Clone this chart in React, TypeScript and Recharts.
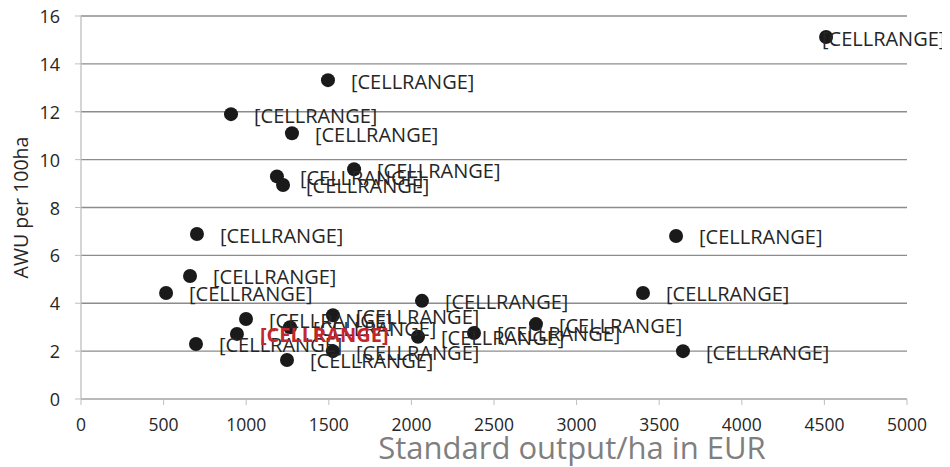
import React from 'react';
import { ScatterChart, Scatter, XAxis, YAxis, CartesianGrid, LabelList, Label } from 'recharts';

const xValues = [4510, 1495, 908, 1277, 1653, 1186, 1223, 702, 3602, 660, 515, 2064, 3402, 1525, 999, 1265, 944, 696, 1525, 1247, 2040, 2379, 2754, 3644];
const yValues = [15.12, 13.32, 11.9, 11.1, 9.6, 9.3, 8.94, 6.89, 6.81, 5.14, 4.43, 4.1, 4.43, 3.5, 3.34, 3.0, 2.72, 2.3, 2.0, 1.63, 2.6, 2.76, 3.13, 2.0];
const pointLabels = xValues.map(() => '[CELLRANGE]');
const highlightIndex = 16;
const xTicks = [0, 500, 1000, 1500, 2000, 2500, 3000, 3500, 4000, 4500, 5000];
const yTicks = [0, 2, 4, 6, 8, 10, 12, 14, 16];
const xTitle = 'Standard output/ha in EUR';
const yTitle = 'AWU per 100ha';

const data = xValues.map((x, i) => ({ x, y: yValues[i], label: pointLabels[i], idx: i }));

const FONT = '"Open Sans", sans-serif';
const LABEL_W = 123;
const CHART_W = 942;

const Dot = (props: any) => <circle cx={props.cx} cy={props.cy} r={7} fill="#1a1a1a" />;

const makeLabel = (highlightPass: boolean) => (props: any) => {
  const { x, y, width, height, index } = props;
  const hi = index === highlightIndex;
  if (hi !== highlightPass) return null;
  const cx = x + width / 2;
  const cy = y + height / 2;
  let tx = cx + 23;
  if (tx + LABEL_W > CHART_W - 5) tx = CHART_W - 5 - LABEL_W;
  return (
    <text x={tx} y={cy + 1} dominantBaseline="central" fontFamily={FONT} fontSize={20}
      fill={hi ? '#c4262e' : '#262626'} fontWeight={hi ? 700 : 400}>
      {pointLabels[index]}
    </text>
  );
};

const NormalLabel = makeLabel(false);
const HighlightLabel = makeLabel(true);

const XTick = (props: any) => (
  <text x={props.x} y={props.y + 17} textAnchor="middle" dominantBaseline="central" fontFamily={FONT} fontSize={17.5} fill="#262626">
    {props.payload.value}
  </text>
);

const YTick = (props: any) => (
  <text x={props.x - 13} y={props.y} textAnchor="end" dominantBaseline="central" fontFamily={FONT} fontSize={18} fill="#262626">
    {props.payload.value}
  </text>
);

export default function App() {
  return (
    <div style={{ marginTop: -8 }}>
      <ScatterChart width={CHART_W} height={467} margin={{ top: 16, right: 43, left: 0, bottom: 38 }}>
        <CartesianGrid vertical={false} stroke="#8c8c8c" strokeWidth={1.3} />
        <XAxis type="number" dataKey="x" domain={[0, 5000]} ticks={xTicks} interval={0} height={30}
          axisLine={{ stroke: '#bfbfbf', strokeWidth: 1.3 }} tickLine={{ stroke: '#bfbfbf' }} tickSize={6} tick={<XTick />}>
          <Label content={(p: any) => (
            <text x={p.viewBox.x + 491} y={p.viewBox.y + 48} textAnchor="middle" dominantBaseline="central"
              fontFamily={FONT} fontSize={31} fill="#7f7f7f">{xTitle}</text>
          )} />
        </XAxis>
        <YAxis type="number" dataKey="y" domain={[0, 16]} ticks={yTicks} interval={0} width={73}
          axisLine={{ stroke: '#bfbfbf', strokeWidth: 1.3 }} tickLine={{ stroke: '#bfbfbf' }} tickSize={6} tick={<YTick />}>
          <Label content={(p: any) => {
            const cx = p.viewBox.x + 12;
            const cy = p.viewBox.y + p.viewBox.height / 2;
            return (
              <text x={cx} y={cy} transform={`rotate(-90, ${cx}, ${cy})`} textAnchor="middle" dominantBaseline="central"
                fontFamily={FONT} fontSize={19.5} fill="#262626">{yTitle}</text>
            );
          }} />
        </YAxis>
        <Scatter data={data} shape={<Dot />} isAnimationActive={false}>
          <LabelList dataKey="label" content={<NormalLabel />} />
          <LabelList dataKey="label" content={<HighlightLabel />} />
        </Scatter>
      </ScatterChart>
    </div>
  );
}
